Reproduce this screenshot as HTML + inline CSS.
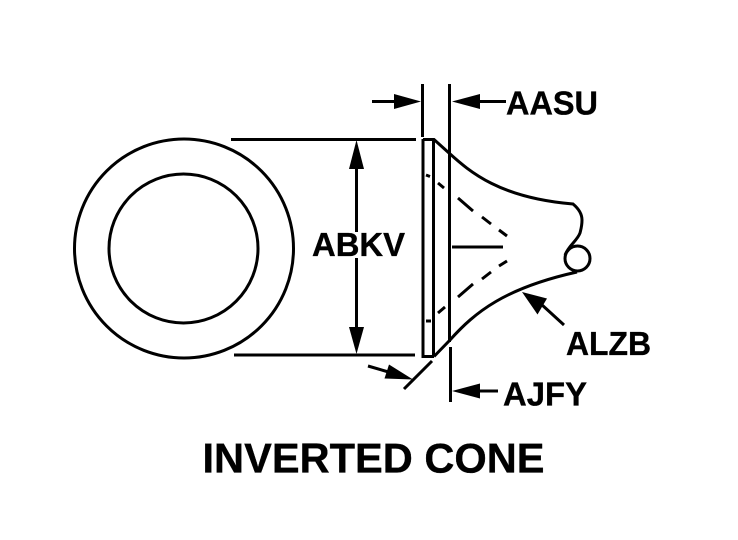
<!DOCTYPE html>
<html><head><meta charset="utf-8"><style>
html,body{margin:0;padding:0;background:#fff}
svg{display:block}
text{font-family:"Liberation Sans",sans-serif;font-weight:bold;fill:#000;stroke:#000;stroke-width:.35}
</style></head><body>
<svg width="738" height="540" viewBox="0 0 738 540" xmlns="http://www.w3.org/2000/svg">
<rect width="738" height="540" fill="#fff"/>
<g fill="none" stroke="#000" stroke-width="3">
<circle cx="184" cy="248.5" r="109.5"/>
<circle cx="183.5" cy="248.5" r="74.5"/>
<path d="M231 139.5H416M234 355H415"/>
<path d="M356.5 165V232M356.5 258V330"/>
<path d="M422.5 84V137M449.5 84V342M450.5 347V402"/>
<path d="M423 139.5H434L449 153C470 172 500 198 573 204C579 209 582 214 582 220C582 226 581 229 580 233C577 241 569 245 565 255"/>
<path d="M423 139V356.500H434M433.500 139V356"/>
<path d="M434 356.500L450 340C475 312 505 288 577 272"/>
<circle cx="577.500" cy="258.500" r="12.500"/>
<path d="M452 247H503"/>
<path d="M372 101.500H396M480 101.500H506M478 391H498"/>
<path d="M404 389L432 361M368 366L392 373M564 325L541 304"/>
<path d="M426 175L430 176.500M438 183L444 188M458 198L473 211M482 217L491 224M499 230L507 236"/>
<path d="M426 321H431M438 313L445 307M458 297L473 284M482 279L491 272M499 266L507 261"/>
</g>
<g fill="#000">
<path d="M356.500 140L349 169H364Z"/>
<path d="M356.500 354L349 327H364Z"/>
<path d="M421 101.500L394 94V109Z"/>
<path d="M452 101.500L480 94V109Z"/>
<path d="M452 391L480 383.500V398.500Z"/>
<path d="M413 379.500L389 364.500L384.500 378.500Z"/>
<path d="M522 292L547 298.500L537.500 314.500Z"/>
</g>
<text x="506" y="114.500" font-size="33" textLength="92" lengthAdjust="spacingAndGlyphs">AASU</text>
<text x="312" y="256" font-size="33" textLength="93" lengthAdjust="spacingAndGlyphs">ABKV</text>
<text x="566" y="355" font-size="33" textLength="85" lengthAdjust="spacingAndGlyphs">ALZB</text>
<text x="503" y="405.500" font-size="33" textLength="84" lengthAdjust="spacingAndGlyphs">AJFY</text>
<text x="202.500" y="472.500" font-size="42" textLength="342" lengthAdjust="spacingAndGlyphs">INVERTED CONE</text>
</svg>
</body></html>
